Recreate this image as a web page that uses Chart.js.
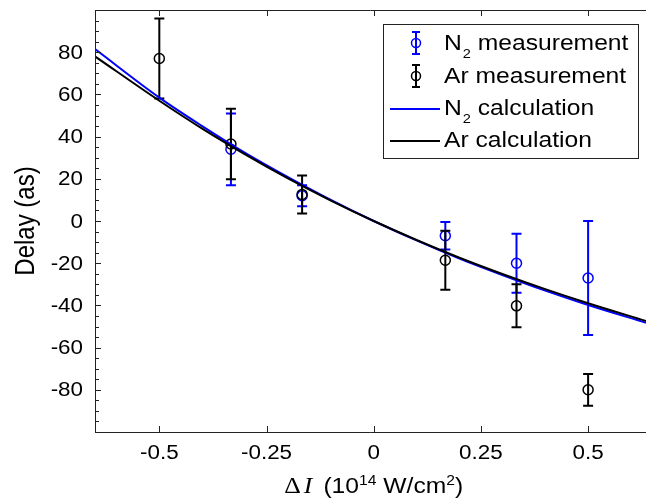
<!DOCTYPE html>
<html>
<head>
<meta charset="utf-8">
<script src="https://cdn.jsdelivr.net/npm/chart.js@4.4.1/dist/chart.umd.min.js"></script>
<style>
  html, body { margin: 0; padding: 0; background: #fff; }
  #wrap { width: 646px; height: 499px; }
</style>
</head>
<body>
<div id="wrap"><canvas id="chart" width="646" height="499"></canvas></div>
<script>
// --- data ---
const n2X = [-0.333, -0.167, 0.167, 0.333, 0.5];
const n2Mean = [34, 12, -7, -20, -27];
const n2Err = [17, 5, 6.5, 14, 27];

const arX = [-0.5, -0.333, -0.167, 0.167, 0.333, 0.5];
const arMean = [77, 36.5, 12.6, -18.6, -40.2, -80];
const arErr = [19, 16.7, 9, 14, 10.2, 7.5];

// calculation curves (sampled from the plot)
const calcX = [-0.65, -0.5, -0.4, -0.3, -0.2, -0.1, 0, 0.1, 0.2, 0.3, 0.4, 0.5, 0.635];
const n2Calc = [81.5, 58.5, 45, 32.3, 20.8, 10, 0, -9.2, -17.8, -25.6, -33, -39.8, -48.2];
const arCalc = [78, 57, 43.8, 31.6, 20.2, 9.7, 0, -9, -17.4, -25.1, -32.3, -39, -47.4];

const xTicks = [-0.5, -0.25, 0, 0.25, 0.5];
const yTicks = [-80, -60, -40, -20, 0, 20, 40, 60, 80];

const BLUE = '#0000ff';
const BLACK = '#000000';
const SANS = '"Liberation Sans", Arial, sans-serif';
const SERIF = '"Liberation Serif", "Times New Roman", serif';
const SX = 1.12; // the original's lettering is a bit wide

const pts = (xs, ys) => xs.map((x, i) => ({ x: x, y: ys[i] }));

// text with a little horizontal stretch, returns drawn width
function txt(ctx, s, x, y, font, align, base) {
    ctx.save();
    ctx.font = font;
    const w = ctx.measureText(s).width * SX;
    let x0 = x;
    if (align === 'center') x0 = x - w / 2;
    if (align === 'right') x0 = x - w;
    ctx.translate(x0, y);
    ctx.scale(SX, 1);
    ctx.textAlign = 'left';
    ctx.textBaseline = base || 'alphabetic';
    ctx.fillText(s, 0, 0);
    ctx.restore();
    return w;
}
function tw(ctx, s, font) { ctx.font = font; return ctx.measureText(s).width * SX; }

// errorbars are drawn right before their own dataset
const errorBars = {
    id: 'errorBars',
    beforeDatasetDraw(chart, args) {
        const ds = chart.data.datasets[args.index];
        if (!ds.err) return;
        const xs = chart.scales.x, ys = chart.scales.y;
        const ctx = chart.ctx;
        ctx.save();
        ctx.strokeStyle = ds.borderColor;
        ctx.lineWidth = 2;
        ds.data.forEach((p, i) => {
            const px = xs.getPixelForValue(p.x);
            const top = ys.getPixelForValue(p.y + ds.err[i]);
            const bot = ys.getPixelForValue(p.y - ds.err[i]);
            ctx.beginPath();
            ctx.moveTo(px, top); ctx.lineTo(px, bot);
            ctx.moveTo(px - 5, top); ctx.lineTo(px + 5, top);
            ctx.moveTo(px - 5, bot); ctx.lineTo(px + 5, bot);
            ctx.stroke();
        });
        ctx.restore();
    }
};

// axes box, inward ticks, labels, titles, legend
const frame = {
    id: 'frame',
    afterDraw(chart) {
        const { ctx, chartArea: a } = chart;
        const xs = chart.scales.x, ys = chart.scales.y;
        ctx.save();
        ctx.strokeStyle = '#222';
        ctx.lineWidth = 1;
        ctx.beginPath();
        ctx.moveTo(a.left + 0.5, a.top + 0.5); ctx.lineTo(a.left + 0.5, a.bottom + 0.5);
        ctx.lineTo(a.right, a.bottom + 0.5);
        ctx.moveTo(a.left + 0.5, a.top + 0.5); ctx.lineTo(a.right, a.top + 0.5);
        xTicks.forEach(v => {
            const px = Math.round(xs.getPixelForValue(v)) + 0.5;
            ctx.moveTo(px, a.bottom); ctx.lineTo(px, a.bottom - 6);
            ctx.moveTo(px, a.top); ctx.lineTo(px, a.top + 6);
        });
        for (let v = ys.min; v <= ys.max; v += 5) {
            const py = Math.round(ys.getPixelForValue(v)) + 0.5;
            const len = v % 20 === 0 ? 6 : 4;
            ctx.moveTo(a.left, py); ctx.lineTo(a.left + len, py);
        }
        ctx.stroke();

        ctx.fillStyle = '#000';
        const tickFont = '20px ' + SANS;
        xTicks.forEach(v => {
            txt(ctx, String(v), xs.getPixelForValue(v), a.bottom + 21, tickFont, 'center', 'middle');
        });
        yTicks.forEach(v => {
            txt(ctx, String(v), 83, ys.getPixelForValue(v) + 1, tickFont, 'right', 'middle');
        });

        // y title (rotated, stretch runs across the letters)
        ctx.save();
        ctx.translate(27, (a.top + a.bottom) / 2);
        ctx.rotate(-Math.PI / 2);
        ctx.scale(1, SX);
        ctx.font = '24px ' + SANS;
        ctx.textAlign = 'center';
        ctx.textBaseline = 'middle';
        ctx.fillText('Delay (as)', 0, 0);
        ctx.restore();

        // x title:  ΔI (10^14 W/cm^2)
        const parts = [
            { t: 'Δ', f: '23px ' + SERIF, dy: 0, gap: 3 },
            { t: 'I', f: 'italic 23px ' + SERIF, dy: 0, gap: 11 },
            { t: '(10', f: '22px ' + SANS, dy: 0, gap: 0 },
            { t: '14', f: '14px ' + SANS, dy: -8, gap: 0 },
            { t: ' W/cm', f: '22px ' + SANS, dy: 0, gap: 0 },
            { t: '2', f: '14px ' + SANS, dy: -8, gap: 0 },
            { t: ')', f: '22px ' + SANS, dy: 0, gap: 0 }
        ];
        let w = 0;
        parts.forEach(p => { p.w = tw(ctx, p.t, p.f); w += p.w + p.gap; });
        let x = xs.getPixelForValue(0) - w / 2;
        parts.forEach(p => { txt(ctx, p.t, x, 493 + p.dy, p.f, 'left'); x += p.w + p.gap; });

        // legend
        ctx.fillStyle = '#fff';
        ctx.fillRect(383, 24, 256, 134);
        ctx.strokeStyle = '#222';
        ctx.lineWidth = 1;
        ctx.strokeRect(383.5, 24.5, 255, 134);
        const rows = [
            { c: BLUE, kind: 'err', a: 'N', sub: '2', b: ' measurement', y: 44 },
            { c: BLACK, kind: 'err', a: 'Ar measurement', sub: '', b: '', y: 77 },
            { c: BLUE, kind: 'line', a: 'N', sub: '2', b: ' calculation', y: 109 },
            { c: BLACK, kind: 'line', a: 'Ar calculation', sub: '', b: '', y: 141 }
        ];
        const lf = '22px ' + SANS, sf = '13px ' + SANS;
        rows.forEach(r => {
            ctx.strokeStyle = r.c;
            ctx.lineWidth = 2;
            ctx.beginPath();
            if (r.kind === 'err') {
                const cy = r.y - 1;
                ctx.moveTo(416, cy - 11); ctx.lineTo(416, cy + 11);
                ctx.moveTo(412, cy - 11); ctx.lineTo(420, cy - 11);
                ctx.moveTo(412, cy + 11); ctx.lineTo(420, cy + 11);
                ctx.stroke();
                ctx.lineWidth = 1.5;
                ctx.beginPath();
                ctx.arc(416, cy, 4.5, 0, Math.PI * 2);
            } else {
                ctx.moveTo(390, r.y); ctx.lineTo(440, r.y);
            }
            ctx.stroke();
            ctx.fillStyle = '#000';
            let tx = 444;
            tx += txt(ctx, r.a, tx, r.y, lf, 'left', 'middle');
            if (r.sub) {
                tx += txt(ctx, r.sub, tx + 1, r.y + 10, sf, 'left', 'middle') + 1;
                txt(ctx, r.b, tx, r.y, lf, 'left', 'middle');
            }
        });
        ctx.restore();
    }
};

new Chart(document.getElementById('chart'), {
    type: 'scatter',
    data: {
        datasets: [
            {
                label: 'N2 measurement', data: pts(n2X, n2Mean), err: n2Err,
                borderColor: BLUE, backgroundColor: 'rgba(0,0,0,0)', borderWidth: 1.5,
                pointRadius: 5, showLine: false, order: 4
            },
            {
                label: 'Ar measurement', data: pts(arX, arMean), err: arErr,
                borderColor: BLACK, backgroundColor: 'rgba(0,0,0,0)', borderWidth: 1.5,
                pointRadius: 5, showLine: false, order: 3
            },
            {
                label: 'N2 calculation', data: pts(calcX, n2Calc),
                borderColor: BLUE, borderWidth: 2, pointRadius: 0, showLine: true,
                cubicInterpolationMode: 'monotone', order: 2
            },
            {
                label: 'Ar calculation', data: pts(calcX, arCalc),
                borderColor: BLACK, borderWidth: 2, pointRadius: 0, showLine: true,
                cubicInterpolationMode: 'monotone', order: 1
            }
        ]
    },
    options: {
        responsive: false,
        animation: false,
        layout: { autoPadding: false, padding: { top: 10, right: 0, left: 0, bottom: 0 } },
        plugins: { legend: { display: false }, tooltip: { enabled: false } },
        scales: {
            x: {
                type: 'linear', min: -0.65, max: 0.635,
                grid: { display: false, drawTicks: false },
                border: { display: false },
                afterBuildTicks: s => { s.ticks = xTicks.map(v => ({ value: v })); },
                afterFit: s => { s.height = 67; },
                ticks: { display: false }
            },
            y: {
                type: 'linear', min: -100, max: 100,
                grid: { display: false, drawTicks: false },
                border: { display: false },
                afterBuildTicks: s => { s.ticks = yTicks.map(v => ({ value: v })); },
                afterFit: s => { s.width = 95; },
                ticks: { display: false }
            }
        }
    },
    plugins: [errorBars, frame]
});
</script>
</body>
</html>
